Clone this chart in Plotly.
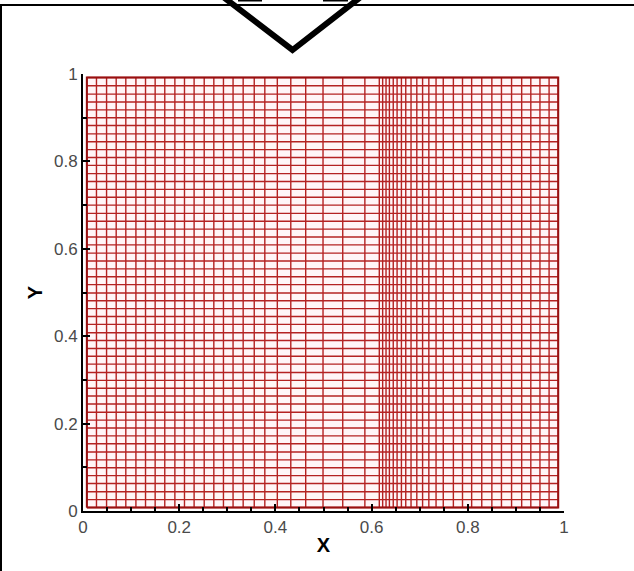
import plotly.graph_objects as go

# Mesh line positions
x_lines = [0.008, 0.028, 0.049, 0.069, 0.089, 0.110, 0.130, 0.150, 0.170, 0.191,
           0.211, 0.231, 0.252, 0.272, 0.292, 0.312, 0.333, 0.356, 0.378, 0.404,
           0.432, 0.463, 0.499, 0.540, 0.586, 0.616, 0.623, 0.630, 0.637, 0.645,
           0.653, 0.662, 0.671, 0.682, 0.694, 0.706, 0.719, 0.734, 0.749, 0.770,
           0.789, 0.808, 0.829, 0.850, 0.870, 0.891, 0.912, 0.931, 0.950, 0.969,
           0.988]
y_lines = [0.008, 0.026, 0.044, 0.063, 0.081, 0.099, 0.117, 0.135, 0.154, 0.172,
           0.190, 0.208, 0.226, 0.245, 0.263, 0.281, 0.299, 0.317, 0.336, 0.354,
           0.372, 0.390, 0.408, 0.427, 0.445, 0.463, 0.481, 0.499, 0.518, 0.536,
           0.554, 0.572, 0.590, 0.609, 0.627, 0.645, 0.663, 0.681, 0.700, 0.718,
           0.736, 0.754, 0.772, 0.791, 0.809, 0.827, 0.845, 0.863, 0.882, 0.900,
           0.918, 0.936, 0.954, 0.973, 0.992]

W, H = 634, 571
ML, MR, MT, MB = 83, 70, 74, 60
PW, PH = W - ML - MR, H - MT - MB

def px(x):
    return (x - ML) / PW

def py(y):
    return (H - MB - y) / PH

MESH = "#b42222"
EDGE = "#981010"

x0, x1 = x_lines[0], x_lines[-1]
y0, y1 = y_lines[0], y_lines[-1]

vx, vy = [], []
for x in x_lines:
    vx += [x, x, None]
    vy += [y0, y1, None]
hx, hy = [], []
for y in y_lines:
    hx += [x0, x1, None]
    hy += [y, y, None]

fig = go.Figure()
# faint tint of mesh area
fig.add_trace(go.Scatter(x=[x0, x1, x1, x0, x0], y=[y0, y0, y1, y1, y0],
                         mode="lines", fill="toself", fillcolor="#fff5f7",
                         line=dict(width=0), hoverinfo="skip", showlegend=False))
fig.add_trace(go.Scatter(x=vx, y=vy, mode="lines", line=dict(color=MESH, width=1.4),
                         hoverinfo="skip", showlegend=False))
fig.add_trace(go.Scatter(x=hx, y=hy, mode="lines", line=dict(color=MESH, width=1.4),
                         hoverinfo="skip", showlegend=False))
fig.add_trace(go.Scatter(x=[x0, x1, x1, x0, x0], y=[y0, y0, y1, y1, y0],
                         mode="lines", line=dict(color=EDGE, width=2),
                         hoverinfo="skip", showlegend=False))

tickfont = dict(family="Liberation Sans, Arial, sans-serif", size=17, color="#4a4a4a")
titlefont = dict(family="Liberation Sans, Arial, sans-serif", size=20, color="black")

common = dict(range=[0, 1], dtick=0.2, tick0=0, ticks="inside", ticklen=7, tickwidth=2,
              tickcolor="black", showline=True, linewidth=2, linecolor="black",
              showgrid=False, zeroline=False, tickfont=tickfont, mirror=False,
              fixedrange=True)

fig.update_xaxes(**common,
                 minor=dict(dtick=0.05, tick0=0, ticks="inside", ticklen=4, tickwidth=1.5,
                            tickcolor="black", showgrid=False),
                 title=dict(text="<b>X</b>", font=titlefont, standoff=2))
fig.update_yaxes(**common,
                 minor=dict(dtick=0.1, tick0=0, ticks="inside", ticklen=4, tickwidth=1.5,
                            tickcolor="black", showgrid=False),
                 title=dict(text="<b>Y</b>", font=titlefont, standoff=6))

shapes = []
# outer frame (left and top edges)
shapes.append(dict(type="line", xref="paper", yref="paper", x0=px(1), y0=py(5), x1=px(1), y1=py(H + 2),
                   line=dict(color="black", width=2)))
shapes.append(dict(type="line", xref="paper", yref="paper", x0=px(0), y0=py(5), x1=px(W), y1=py(5),
                   line=dict(color="black", width=2)))
# chevron arrow head at top
shapes.append(dict(type="path", xref="paper", yref="paper",
                   path="M {} {} L {} {} L {} {}".format(px(222), py(-4), px(292.5), py(50), px(362), py(-4)),
                   line=dict(color="black", width=6)))
shapes.append(dict(type="line", xref="paper", yref="paper", x0=px(238), y0=py(-1), x1=px(262), y1=py(-1),
                   line=dict(color="black", width=5)))
shapes.append(dict(type="line", xref="paper", yref="paper", x0=px(323), y0=py(-1), x1=px(348), y1=py(-1),
                   line=dict(color="black", width=5)))

fig.update_layout(width=W, height=H, margin=dict(l=ML, r=MR, t=MT, b=MB, pad=0),
                  paper_bgcolor="white", plot_bgcolor="white", shapes=shapes,
                  showlegend=False)

fig.write_html("out.html")
